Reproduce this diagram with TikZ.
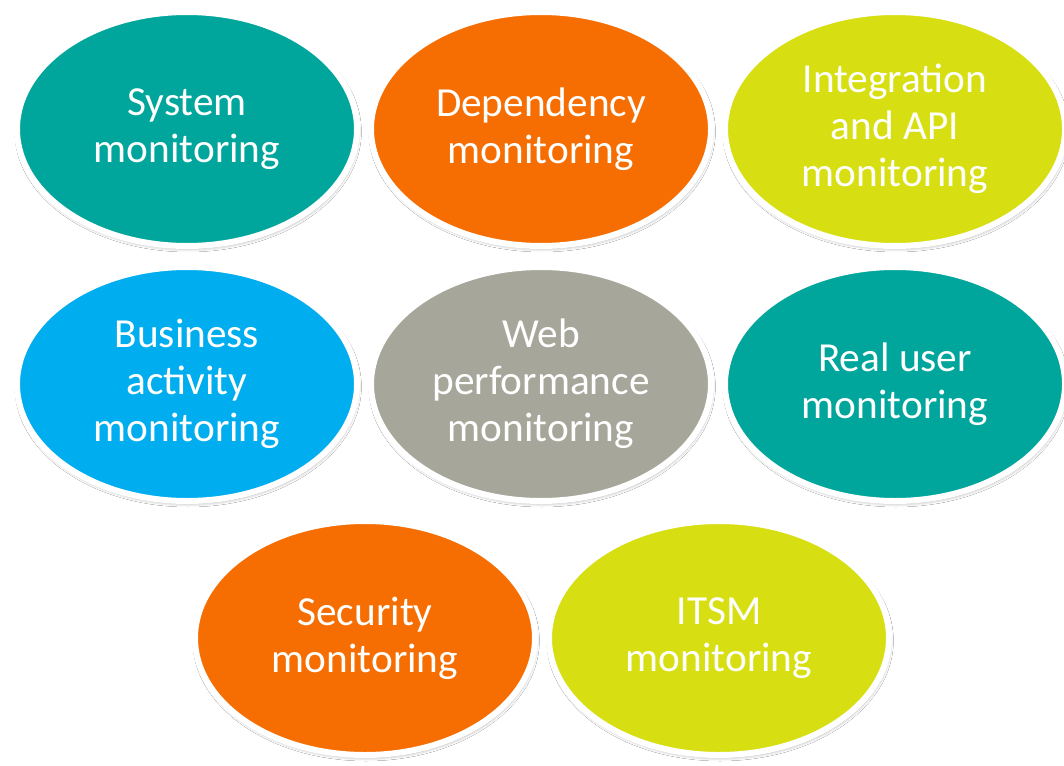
\documentclass[tikz,border=0pt]{standalone}
\usepackage{fontspec}
\setmainfont{Carlito}
\usetikzlibrary{shapes.geometric,shadows.blur}

% colori delle bolle
\definecolor{verdeacqua}{RGB}{0,166,156}
\definecolor{arancio}{RGB}{246,110,2}
\definecolor{lime}{RGB}{215,223,18}
\definecolor{azzurro}{RGB}{0,173,238}
\definecolor{grigio}{RGB}{166,167,154}

\tikzset{
  bolla/.style={ellipse, fill=#1, draw=white, line width=0.12cm,
    minimum width=6.8cm, minimum height=4.68cm, inner sep=0pt,
    align=center, text=white, font=\fontsize{23.5}{26.8}\selectfont,
    blur shadow={shadow xshift=0.6pt, shadow yshift=-1.5pt,
      shadow blur steps=6, shadow opacity=35}}
}

\begin{document}
\begin{tikzpicture}

        % sfondo
        \fill[white] (0,0) rectangle (21.28,-15.3);
        \useasboundingbox (0,0) rectangle (21.28,-15.3);

        % prima riga
        \node[bolla=verdeacqua] (sys) at (3.74,-2.58) {System\\monitoring};
        \node[bolla=arancio] (dep) at (10.82,-2.58) {Dependency\\monitoring};
        \node[bolla=lime] (api) at (17.9,-2.58) {Integration\\and API\\monitoring};

        % seconda riga
        \node[bolla=azzurro] (bam) at (3.74,-7.68) {Business\\activity\\monitoring};
        \node[bolla=grigio] (web) at (10.82,-7.68) {Web\\performance\\monitoring};
        \node[bolla=verdeacqua] (rum) at (17.9,-7.68) {Real user\\monitoring};

        % terza riga
        \node[bolla=arancio] (sec) at (7.3,-12.76) {Security\\monitoring};
        \node[bolla=lime] (itsm) at (14.38,-12.76) {ITSM\\monitoring};

\end{tikzpicture}
\end{document}
